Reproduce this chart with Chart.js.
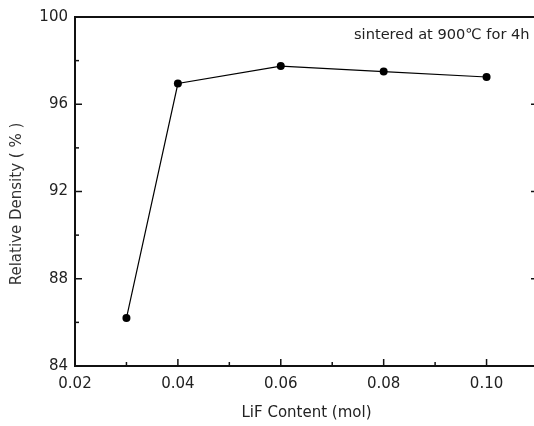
<!DOCTYPE html>
<html>
<head>
<meta charset="utf-8">
<script src="https://cdn.jsdelivr.net/npm/chart.js@4"></script>
<style>
  html, body { margin: 0; padding: 0; background: #fff; overflow: hidden; }
  #wrap { width: 534px; height: 426px; overflow: hidden; }
</style>
</head>
<body>
<div id="wrap"><canvas id="densityChart" width="560" height="426"></canvas></div>
<script>
// data
const lifContent = [0.03, 0.04, 0.06, 0.08, 0.10];
const relDensity = [86.2, 96.95, 97.75, 97.5, 97.25];
const xTicks = [0.02, 0.04, 0.06, 0.08, 0.10];
const xMinorTicks = [0.03, 0.05, 0.07, 0.09];
const yTicks = [84, 88, 92, 96, 100];
const yMinorTicks = [86, 90, 94, 98];
const yTitle = 'Relative Density ( % )';
const note = 'sintered at 900\u2103 for 4h';

const FONT = '"DejaVu Sans", sans-serif';

// inward ticks, top frame line, y title and the note
const framePlugin = {
  id: 'frame',
  afterDraw(chart) {
    const { ctx, chartArea: a, scales: { x, y } } = chart;
    ctx.save();
    ctx.strokeStyle = '#111';
    ctx.lineWidth = 1.5;
    const tick = (x1, y1, x2, y2) => {
      ctx.beginPath(); ctx.moveTo(x1, y1); ctx.lineTo(x2, y2); ctx.stroke();
    };
    xTicks.forEach(v => { const p = x.getPixelForValue(v); tick(p, a.bottom, p, a.bottom - 7); });
    xMinorTicks.forEach(v => { const p = x.getPixelForValue(v); tick(p, a.bottom, p, a.bottom - 4); });
    yTicks.forEach(v => {
      const p = y.getPixelForValue(v);
      tick(a.left, p, a.left + 7, p);
      tick(a.right, p, a.right - 7, p);
    });
    yMinorTicks.forEach(v => {
      const p = y.getPixelForValue(v);
      tick(a.left, p, a.left + 4, p);
      tick(a.right, p, a.right - 4, p);
    });
    ctx.lineWidth = 2;
    tick(a.left, a.top, a.right, a.top);

    ctx.fillStyle = '#222';
    ctx.font = '14.6px ' + FONT;
    ctx.textBaseline = 'middle';
    ctx.fillText(note, 354, 35);

    ctx.fillStyle = '#333';
    ctx.font = '15px ' + FONT;
    ctx.translate(17, 204);
    ctx.rotate(-Math.PI / 2);
    ctx.textAlign = 'center';
    ctx.fillText(yTitle, 0, 0);
    ctx.restore();
  }
};

const ctx = document.getElementById('densityChart').getContext('2d');
const chart = new Chart(ctx, {
  type: 'line',
  data: {
    datasets: [{
      data: lifContent.map((v, i) => ({ x: v, y: relDensity[i] })),
      borderColor: '#000',
      borderWidth: 1.2,
      backgroundColor: '#000',
      pointRadius: 4,
      pointBorderWidth: 0,
      tension: 0
    }]
  },
  options: {
    responsive: false,
    animation: false,
    layout: { padding: { top: 17, right: 22, left: 0, bottom: 0 } },
    plugins: { legend: { display: false }, tooltip: { enabled: false } },
    scales: {
      x: {
        type: 'linear',
        min: 0.02,
        max: 0.11,
        afterBuildTicks: s => { s.ticks = xTicks.map(v => ({ value: v })); },
        afterFit: s => { s.height = 60; },
        grid: { display: false, drawTicks: false },
        border: { display: true, color: '#111', width: 2 },
        ticks: {
          padding: 9,
          color: '#222',
          font: { family: FONT, size: 15 },
          callback: v => v.toFixed(2)
        },
        title: {
          display: true,
          text: 'LiF Content (mol)',
          color: '#222',
          font: { family: FONT, size: 15 },
          padding: { top: 0, bottom: 4 }
        }
      },
      y: {
        min: 84,
        max: 100,
        afterBuildTicks: s => { s.ticks = yTicks.map(v => ({ value: v })); },
        afterFit: s => { s.width = 75; },
        grid: { display: false, drawTicks: false },
        border: { display: true, color: '#111', width: 2 },
        ticks: {
          padding: 7,
          color: '#222',
          font: { family: FONT, size: 15 }
        }
      }
    }
  },
  plugins: [framePlugin]
});
</script>
</body>
</html>
